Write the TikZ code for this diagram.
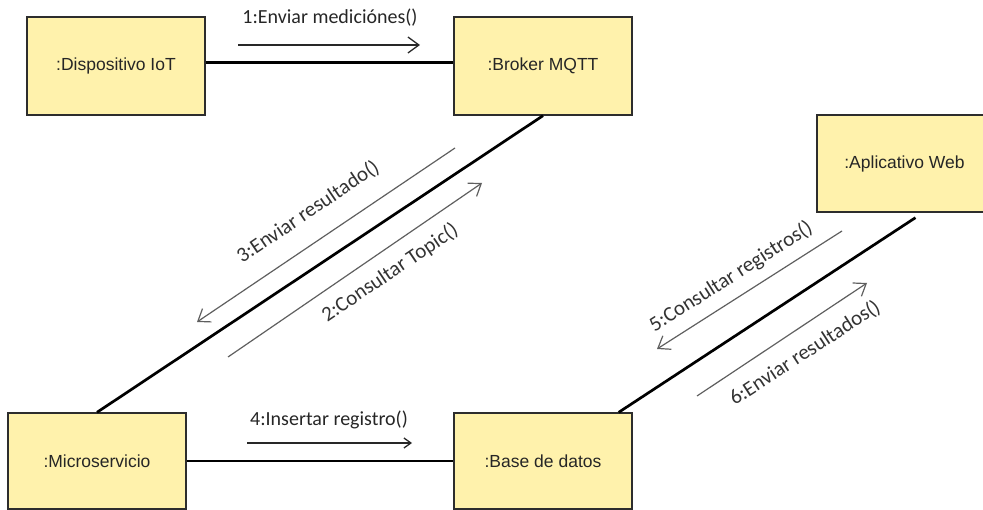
\documentclass[tikz,border=0pt]{standalone}
\usepackage{fontspec}
\setmainfont{Liberation Sans}
\newfontfamily\msgfont{Carlito}
\usetikzlibrary{arrows.meta}
\definecolor{boxfill}{RGB}{255,242,172}
\definecolor{boxline}{RGB}{45,45,45}
\definecolor{msgdark}{RGB}{40,40,40}
\definecolor{msggray}{RGB}{95,95,95}
\tikzset{
  objbox/.style={draw=boxline, line width=1.3pt, fill=boxfill, rectangle, inner sep=0pt,
    font=\fontsize{17.5}{20}\selectfont, text=black!85},
  link/.style={draw=black, line width=2.7pt},
  msgh/.style={draw=msgdark, line width=1.3pt, -{Straight Barb[length=11pt,width=16pt,line width=1.3pt]}},
  msgs/.style={draw=msgdark, line width=1.3pt, -{Straight Barb[length=7pt,width=10pt,line width=1.3pt]}},
  msgd/.style={draw=msggray, line width=1.2pt, -{Straight Barb[length=11pt,width=16pt,line width=1.2pt]}},
  msglabel/.style={inner sep=0pt, font=\msgfont\fontsize{20}{24}\selectfont, text=black!85},
  msglabeld/.style={inner sep=0pt, font=\msgfont\fontsize{21}{25}\selectfont, text=black!80}
}
\begin{document}
\begin{tikzpicture}[x=1pt,y=-1pt]
\useasboundingbox (0,0) rectangle (983,510);
\clip (0,0) rectangle (983,510);
% objects
\node[objbox, minimum width=178pt, minimum height=98pt] (dev) at (116,66) {:Dispositivo IoT};
\node[objbox, minimum width=178pt, minimum height=98pt] (broker) at (543,66) {:Broker MQTT};
\node[objbox, minimum width=175pt, minimum height=97pt] (app) at (904.5,163.5) {:Aplicativo Web};
\node[objbox, minimum width=178pt, minimum height=96pt] (micro) at (97,461) {:Microservicio};
\node[objbox, minimum width=178pt, minimum height=96pt] (base) at (543,461) {:Base de datos};
% links
\draw[link] ([yshift=3.5pt]dev.east) -- ([yshift=3.5pt]broker.west);
\draw[link] (broker.south) -- (micro.north);
\draw[link] (micro.east) -- (base.west);
\draw[link] ([xshift=11pt,yshift=-5pt]app.south) -- ([xshift=-14pt]base.north east);
% message arrow end points
\coordinate (m1s) at (238,45);  \coordinate (m1e) at (420,45);
\coordinate (m4s) at (247,443); \coordinate (m4e) at (412,443);
\coordinate (m3s) at (455,148); \coordinate (m3e) at (197,322);
\coordinate (m2s) at (228,357); \coordinate (m2e) at (482,183);
\coordinate (m5s) at (842,231); \coordinate (m5e) at (657,349);
\coordinate (m6s) at (697,396); \coordinate (m6e) at (867,283);
% message arrows
\draw[msgh] (m1s) -- (m1e);
\draw[msgs] (m4s) -- (m4e);
\draw[msgd] (m3s) -- (m3e);
\draw[msgd] (m2s) -- (m2e);
\draw[msgd] (m5s) -- (m5e);
\draw[msgd] (m6s) -- (m6e);
% message labels
\node[msglabel] (l1) at (330,18) {1:Enviar mediciónes()};
\node[msglabel] (l4) at (329,420) {4:Insertar registro()};
\node[msglabeld, rotate=34] (l3) at (308,212) {3:Enviar resultado()};
\node[msglabeld, rotate=34] (l2) at (390,273) {2:Consultar Topic()};
\node[msglabeld, rotate=32.5] (l5) at (731,277) {5:Consultar registros()};
\node[msglabeld, rotate=33] (l6) at (805,353) {6:Enviar resultados()};
\end{tikzpicture}
\end{document}
